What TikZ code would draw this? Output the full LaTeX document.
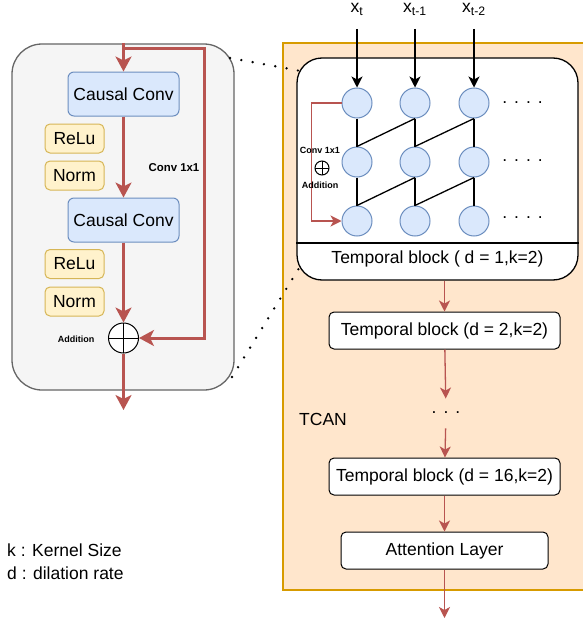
\documentclass[tikz,border=0pt]{standalone}
\usepackage{fontspec}
\setmainfont{Liberation Sans}
\usetikzlibrary{arrows.meta}

\definecolor{linkred}{HTML}{B85450}
\definecolor{convfill}{HTML}{DAE8FC}
\definecolor{convline}{HTML}{6C8EBF}
\definecolor{actfill}{HTML}{FFF2CC}
\definecolor{actline}{HTML}{D6B656}
\definecolor{panelfill}{HTML}{F5F5F5}
\definecolor{panelline}{HTML}{666666}
\definecolor{tcanfill}{HTML}{FFE6CC}
\definecolor{tcanline}{HTML}{D79B00}

\tikzset{
  panel/.style={draw=panelline, fill=panelfill, line width=1.3pt, rounded corners=30pt,
    minimum width=222pt, minimum height=346pt},
  convbox/.style={draw=convline, fill=convfill, line width=1pt, rounded corners=6pt,
    minimum width=111pt, minimum height=44pt, inner sep=0pt},
  actbox/.style={draw=actline, fill=actfill, line width=1pt, rounded corners=5pt,
    minimum width=59pt, minimum height=29pt, inner sep=0pt},
  tblock/.style={draw, fill=white, line width=1pt, rounded corners=5pt,
    minimum height=37pt, inner sep=0pt},
  neuron/.style={circle, draw=convline, fill=convfill, line width=1pt, minimum size=30pt, inner sep=0pt},
  oplus/.style={circle, draw, fill=white, line width=1pt, inner sep=0pt, minimum size=#1,
    path picture={\draw[line width=1pt] (path picture bounding box.north) -- (path picture bounding box.south)
      (path picture bounding box.west) -- (path picture bounding box.east);}},
  tiny/.style={font=\fontsize{9}{11}\selectfont\bfseries, inner sep=0pt},
  inlabel/.style={anchor=base, inner sep=0pt},
  skiparr/.style={draw=linkred, line width=3pt, -{Stealth[length=15pt, width=16pt, inset=4pt]}},
  flowarr/.style={draw=linkred, line width=1.3pt, -{Stealth[length=11pt, width=11pt, inset=3pt]}},
  inarr/.style={draw, line width=1.3pt, -{Stealth[length=11pt, width=11pt, inset=3pt]}},
  zoomline/.style={line width=2.6pt, line cap=round, dash pattern=on 0pt off 11.5pt},
}

\begin{document}
\begin{tikzpicture}[x=1pt, y=-1pt, font=\fontsize{17.5}{21}\selectfont]
  \useasboundingbox (0,0) rectangle (583,626);

  \node[panel] (tcn) at (123,217) {};
  \node[convbox] (cc1) at (123.5,94) {Causal Conv};
  \node[actbox] (relu1) at (74.5,138.5) {ReLu};
  \node[actbox] (norm1) at (74.5,175.5) {Norm};
  \node[convbox] (cc2) at (123.5,220) {Causal Conv};
  \node[actbox] (relu2) at (74.5,264) {ReLu};
  \node[actbox] (norm2) at (74.5,301.5) {Norm};
  \node[oplus=30pt] (add) at (123.5,338) {};
  \node[tiny] (addlbl) at (76,339) {Addition};
  \node[tiny, font=\fontsize{11.4}{13}\selectfont\bfseries] (skiplbl) at (174,168) {Conv 1x1};
  \coordinate (top) at (123.5,43);
  \coordinate (skip) at (204,49);
  \coordinate (out) at (123.5,410);
  \draw[skiparr] (top) -- (cc1);
  \draw[skiparr] (top |- skip) -- (skip) |- (add);
  \draw[skiparr] (cc1) -- (cc2);
  \draw[skiparr] (cc2) -- (add);
  \draw[skiparr] (add) -- (out);

  \node[draw=tcanline, fill=tcanfill, line width=1.5pt, minimum width=307pt, minimum height=547pt] (tcan) at (436.5,316.5) {};
  \node[draw, fill=white, line width=1.3pt, rounded corners=25pt, minimum width=281pt, minimum height=222pt] (blk1) at (437.5,169) {};
  \draw[line width=1.3pt] (blk1.west |- 0,243) -- (blk1.east |- 0,243);
  \node (blk1lbl) at (437.5,259) {Temporal block ( d = 1,k=2)};

  \node[inlabel] (xt) at (357,13) {x\textsubscript{t}};
  \node[inlabel] (xt1) at (415,13) {x\textsubscript{t-1}};
  \node[inlabel] (xt2) at (474,13) {x\textsubscript{t-2}};

  \node[neuron] (n11) at (357,103) {};
  \node[neuron] (n12) at (415,103) {};
  \node[neuron] (n13) at (474,103) {};
  \node[neuron] (n21) at (357,162) {};
  \node[neuron] (n22) at (415,162) {};
  \node[neuron] (n23) at (474,162) {};
  \node[neuron] (n31) at (357,221) {};
  \node[neuron] (n32) at (415,221) {};
  \node[neuron] (n33) at (474,221) {};
  \node (dots1) at (522.5,103) {.\hspace{7pt}.\hspace{7pt}.\hspace{7pt}.};
  \node (dots2) at (522.5,161) {.\hspace{7pt}.\hspace{7pt}.\hspace{7pt}.};
  \node (dots3) at (522.5,218) {.\hspace{7pt}.\hspace{7pt}.\hspace{7pt}.};

  \draw[inarr, shorten <=13pt] (xt) -- (n11);
  \draw[inarr, shorten <=13pt] (xt1) -- (n12);
  \draw[inarr, shorten <=13pt] (xt2) -- (n13);
  \draw[line width=1.3pt] (n11) -- (n21) (n21) -- (n31);
  \draw[line width=1.3pt] (n12) -- (n22) (n22) -- (n32);
  \draw[line width=1.3pt] (n13) -- (n23) (n23) -- (n33);
  \draw[line width=1.3pt] (n21.north) -- (n12.south) (n22.north) -- (n13.south);
  \draw[line width=1.3pt] (n31.north) -- (n22.south) (n32.north) -- (n23.south);

  \draw[flowarr] (n11.west) -- ++(-30,0) |- (n31.west);
  \node[tiny] (convlbl) at (320,150) {Conv 1x1};
  \node[oplus=14pt] (inadd) at (322,168) {};
  \node[tiny] (inaddlbl) at (320,185) {Addition};

  \node[tblock, minimum width=231pt] (blk2) at (444.5,330.5) {Temporal block (d = 2,k=2)};
  \node (vdots) at (446,413) {.\hspace{7pt}.\hspace{7pt}.};
  \node[tblock, minimum width=231pt] (blk16) at (444.5,476.5) {Temporal block (d = 16,k=2)};
  \node[tblock, minimum width=207pt] (attn) at (444.5,550.5) {Attention Layer};
  \node (tcanlbl) at (323,419) {TCAN};
  \coordinate (tcanout) at (444.5,618);
  \draw[flowarr] (blk1.south -| blk2) -- (blk2);
  \draw[flowarr, shorten >=10pt] (blk2) -- (vdots);
  \draw[flowarr, shorten <=11pt] (vdots) -- (blk16);
  \draw[flowarr] (blk16) -- (attn);
  \draw[flowarr] (attn) -- (tcanout);

  \coordinate (zoomtop1) at (230,58);
  \coordinate (zoomtop2) at (301,71);
  \coordinate (zoombot1) at (232,377);
  \coordinate (zoombot2) at (301,265);
  \draw[zoomline] (zoomtop1) -- (zoomtop2);
  \draw[zoomline] (zoombot1) -- (zoombot2);

  \node[anchor=west, inner sep=0pt] (keyk) at (7,550) {k : Kernel Size};
  \node[anchor=west, inner sep=0pt] (keyd) at (7,573) {d : dilation rate};
\end{tikzpicture}
\end{document}
